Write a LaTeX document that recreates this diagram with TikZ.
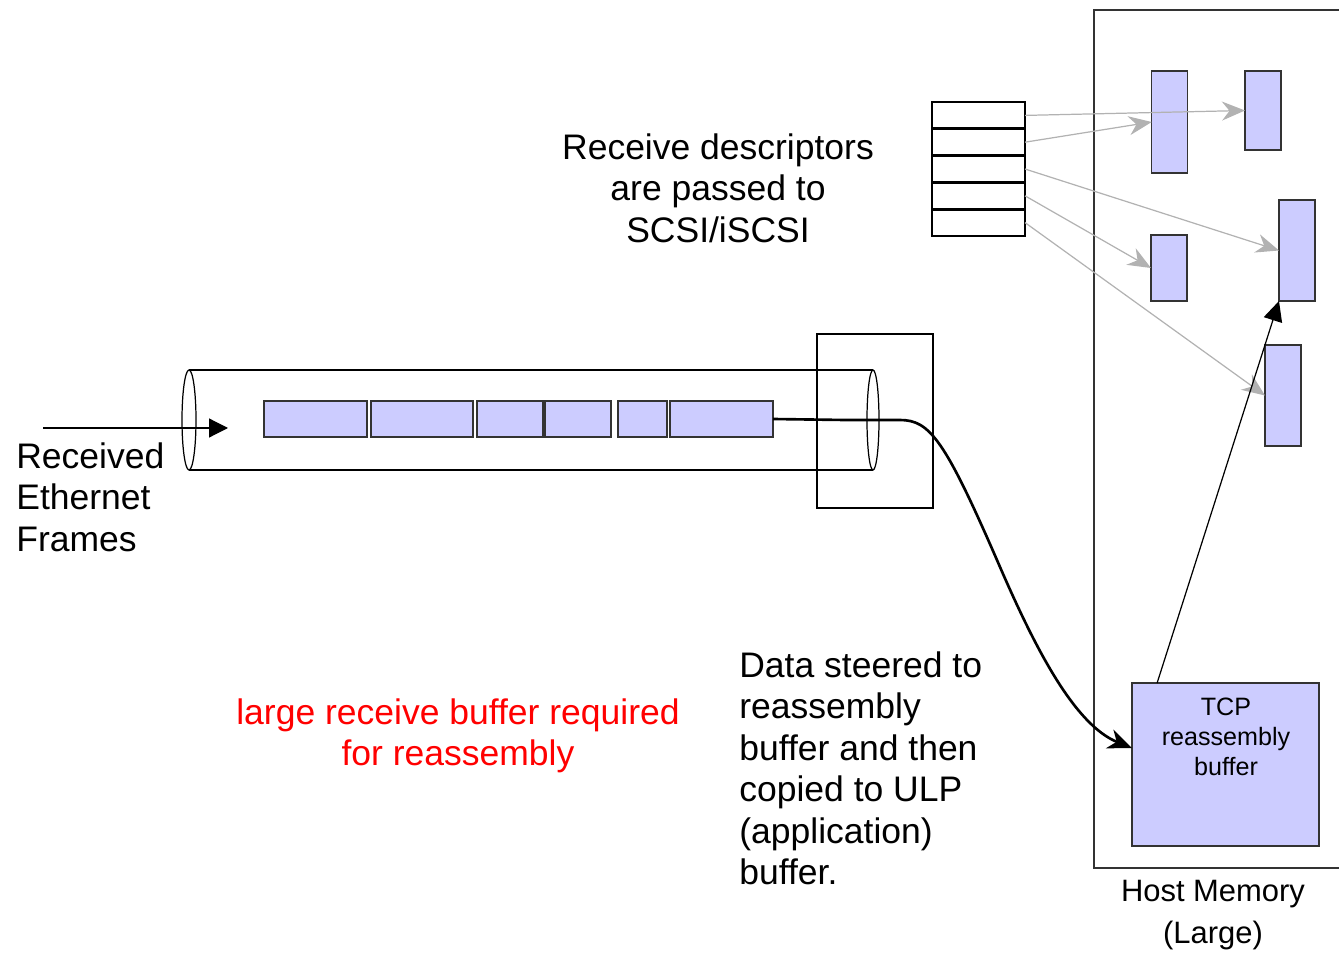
\documentclass[tikz,border=0pt]{standalone}
\usepackage{fontspec}
\setmainfont{Liberation Sans}
\usetikzlibrary{arrows.meta}
\usetikzlibrary{positioning}
\definecolor{mlav}{rgb}{0.8, 0.8, 1}
\definecolor{mgray}{rgb}{0.7, 0.7, 0.7}
\definecolor{mdark}{rgb}{0.2, 0.2, 0.2}

\begin{document}
\begin{tikzpicture}[x=0.2mm, y=-0.2mm,
    buf/.style={draw=mdark, fill=mlav, line width=0.8pt, inner sep=0pt, outer sep=0pt},
    slot/.style={draw, line width=0.8pt, minimum width=18.6mm, minimum height=5.36mm, inner sep=0pt, outer sep=0pt},
    desc/.style={mgray, line width=0.7pt, -{Stealth[length=4.6mm, width=3.8mm, inset=1.5mm]}},
    txt/.style={font=\fontsize{20.2}{23.6}\selectfont, inner sep=0pt}]
      \useasboundingbox (0, 0) rectangle (1339, 954);

      % host memory
      \draw [mdark, line width=1.1pt] (1345, 10) -| (1094, 868) -- (1345, 868);
      \node [font=\fontsize{17.6}{23.8}\selectfont, inner sep=0pt, align=center] (host) at (1213, 915) {Host Memory\\(Large)};

      % the pipe
      \draw [line width=0.8pt] (189, 370) -- (873, 370) (189, 470) -- (873, 470);
      \draw [line width=0.7pt] (189, 420) ellipse [x radius=7, y radius=50];
      \draw [line width=0.7pt] (873, 420) ellipse [x radius=6, y radius=50];
      \foreach \a/\b [count=\i] in {264/367, 371/473, 477/543, 545/611, 618/667, 670/773} {
        \node [buf, minimum width={(\b-\a)*0.2mm}, minimum height=7.2mm] (f\i) at ({(\a+\b)/2}, 419) {};
      }
      \node [draw, line width=0.7pt, minimum width=23.2mm, minimum height=34.8mm, inner sep=0pt] (port) at (875, 421) {};

      \coordinate (inA) at (43, 428);
      \coordinate (inB) at (228, 428);
      \draw [line width=0.7pt, -{Triangle[length=3.8mm, width=3.8mm]}] (inA) -- (inB);
      \node [txt, align=left, anchor=west] (rcv) at (16, 497) {Received\\Ethernet\\Frames};

      % descriptors
      \foreach \i in {1, ..., 5} {
        \node [slot] (d\i) at (978.5, {102+26.8*(\i-0.5)}) {};
      }
      \foreach \i in {1, ..., 4} {
        \draw [line width=1.6pt] (d\i.south west) -- (d\i.south east);
      }
      \node [txt, align=center] (dlbl) at (718, 188) {Receive descriptors\\are passed to\\SCSI/iSCSI};

      \node [buf, minimum width=7.1mm, minimum height=20.4mm] (r1) at (1169.5, 122) {};
      \node [buf, minimum width=7.2mm, minimum height=15.8mm] (r2) at (1263, 110.5) {};
      \node [buf, minimum width=7.2mm, minimum height=20.2mm] (r3) at (1297, 250.5) {};
      \node [buf, minimum width=7.2mm, minimum height=13.2mm] (r4) at (1169, 268) {};
      \node [buf, minimum width=7.2mm, minimum height=20.2mm] (r5) at (1283, 395.5) {};
      \node [buf, minimum width=37.4mm, minimum height=32.6mm] (tcp) at (1225.5, 764.5) {};
      \node [font=\fontsize{14.3}{17.1}\selectfont, align=center, inner sep=0pt] (tcplbl) at (1226, 737) {TCP\\reassembly\\buffer};

      \draw [desc] (d1.east) -- (r2.west);
      \draw [desc] (d2.east) -- (r1.west);
      \draw [desc] (d3.east) -- (r3.west);
      \draw [desc] (d4.east) -- (r4.west);
      \draw [desc] (d5.east) -- (r5.west);

      \draw [line width=0.7pt, -{Triangle[length=4mm, width=3.8mm]}] (tcp.130) -- (r3.south west);

      % data path
      \draw [line width=1.5pt, -{Stealth[length=4.8mm, width=4mm, inset=1.5mm]}]
        (f6.east) -- (845, 420) -- (900, 420) .. controls (930, 420) and (945, 440) .. (1000, 567)
        .. controls (1036, 650) and (1075, 725) .. (tcp.170);

      \node [txt, align=left, anchor=west] (steer) at (739, 768.5) {Data steered to\\reassembly\\buffer and then\\copied to ULP\\(application)\\buffer.};
      \node [txt, align=center, red] (note) at (458, 736) {large receive buffer required\\for reassembly};
    \end{tikzpicture}
\end{document}
